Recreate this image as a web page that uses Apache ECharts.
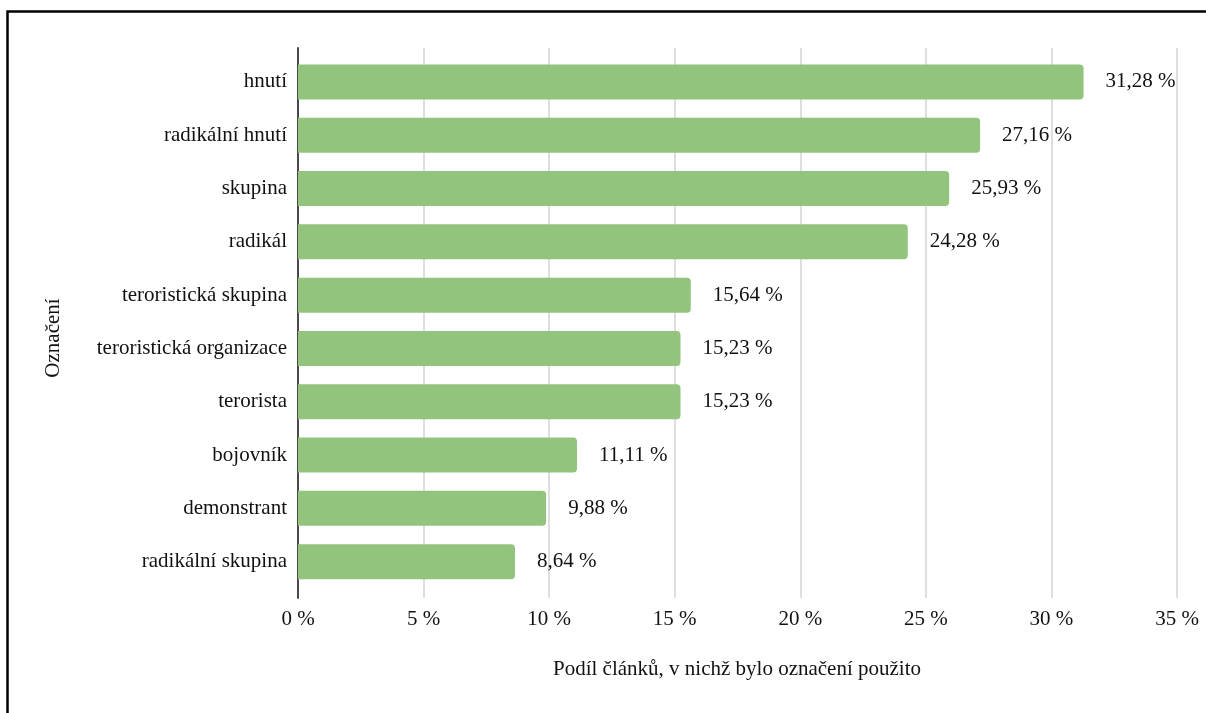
<!DOCTYPE html>
<html>
<head>
<meta charset="utf-8">
<script src="https://cdn.jsdelivr.net/npm/echarts@6/dist/echarts.min.js"></script>
<style>
html,body{margin:0;padding:0;background:#fff;}
#chart{width:1206px;height:713px;}
</style>
</head>
<body>
<div id="chart"></div>
<script>
const categories = ["hnutí","radikální hnutí","skupina","radikál","teroristická skupina","teroristická organizace","terorista","bojovník","demonstrant","radikální skupina"];
const values = [31.28, 27.16, 25.93, 24.28, 15.64, 15.23, 15.23, 11.11, 9.88, 8.64];
const xTicks = {min: 0, max: 35, interval: 5};
const xTitle = "Podíl článků, v nichž bylo označení použito";
const yTitle = "Označení";

const FONT = "Liberation Serif";
const FS = 21;
const fmt = v => String(v.toFixed ? v.toFixed(2) : v).replace('.', ',') + ' %';

const chart = echarts.init(document.getElementById('chart'), null, {renderer: 'canvas'});
chart.setOption({
  animation: false,
  backgroundColor: '#fff',
  textStyle: {fontFamily: FONT},
  grid: [
    {left: 298, right: 29, top: 48, bottom: 115},
    {left: 298, right: 29, top: 55.3, bottom: 124.7}
  ],
  xAxis: [
    {
      gridIndex: 0, type: 'value', min: xTicks.min, max: xTicks.max, interval: xTicks.interval,
      axisLine: {show: false}, axisTick: {show: false},
      splitLine: {show: true, lineStyle: {color: '#d3d3d3', width: 1.5}},
      axisLabel: {fontFamily: FONT, fontSize: FS, color: '#111', margin: 11,
        formatter: v => v + ' %'}
    },
    {
      gridIndex: 1, type: 'value', min: xTicks.min, max: xTicks.max,
      show: false
    }
  ],
  yAxis: [
    {
      gridIndex: 0, type: 'value', min: 0, max: 1,
      axisLine: {show: true, lineStyle: {color: '#4a4a4a', width: 2}},
      axisTick: {show: false}, axisLabel: {show: false}, splitLine: {show: false}
    },
    {
      gridIndex: 1, type: 'category', data: categories, inverse: true,
      axisLine: {show: false}, axisTick: {show: false},
      axisLabel: {fontFamily: FONT, fontSize: FS, color: '#111', margin: 11}
    }
  ],
  series: [{
    type: 'bar',
    xAxisIndex: 1, yAxisIndex: 1,
    data: values,
    barWidth: 35,
    itemStyle: {color: '#93c47d', borderRadius: [0, 4, 4, 0]},
    label: {
      show: true, position: 'right', distance: 22,
      fontFamily: FONT, fontSize: FS, color: '#111',
      formatter: p => fmt(p.value)
    }
  }],
  graphic: [
    {type: 'rect', shape: {x: 7.5, y: 11.5, width: 1400, height: 900},
      style: {fill: 'none', stroke: '#000', lineWidth: 2.5}, silent: true},
    {type: 'text', x: 737, y: 669,
      style: {text: xTitle, font: FS + 'px "' + FONT + '"', fill: '#111', textAlign: 'center', textVerticalAlign: 'middle'}},
    {type: 'text', x: 53, y: 338, rotation: Math.PI / 2,
      style: {text: yTitle, font: FS + 'px "' + FONT + '"', fill: '#111', textAlign: 'center', textVerticalAlign: 'middle'}}
  ]
});
</script>
</body>
</html>
